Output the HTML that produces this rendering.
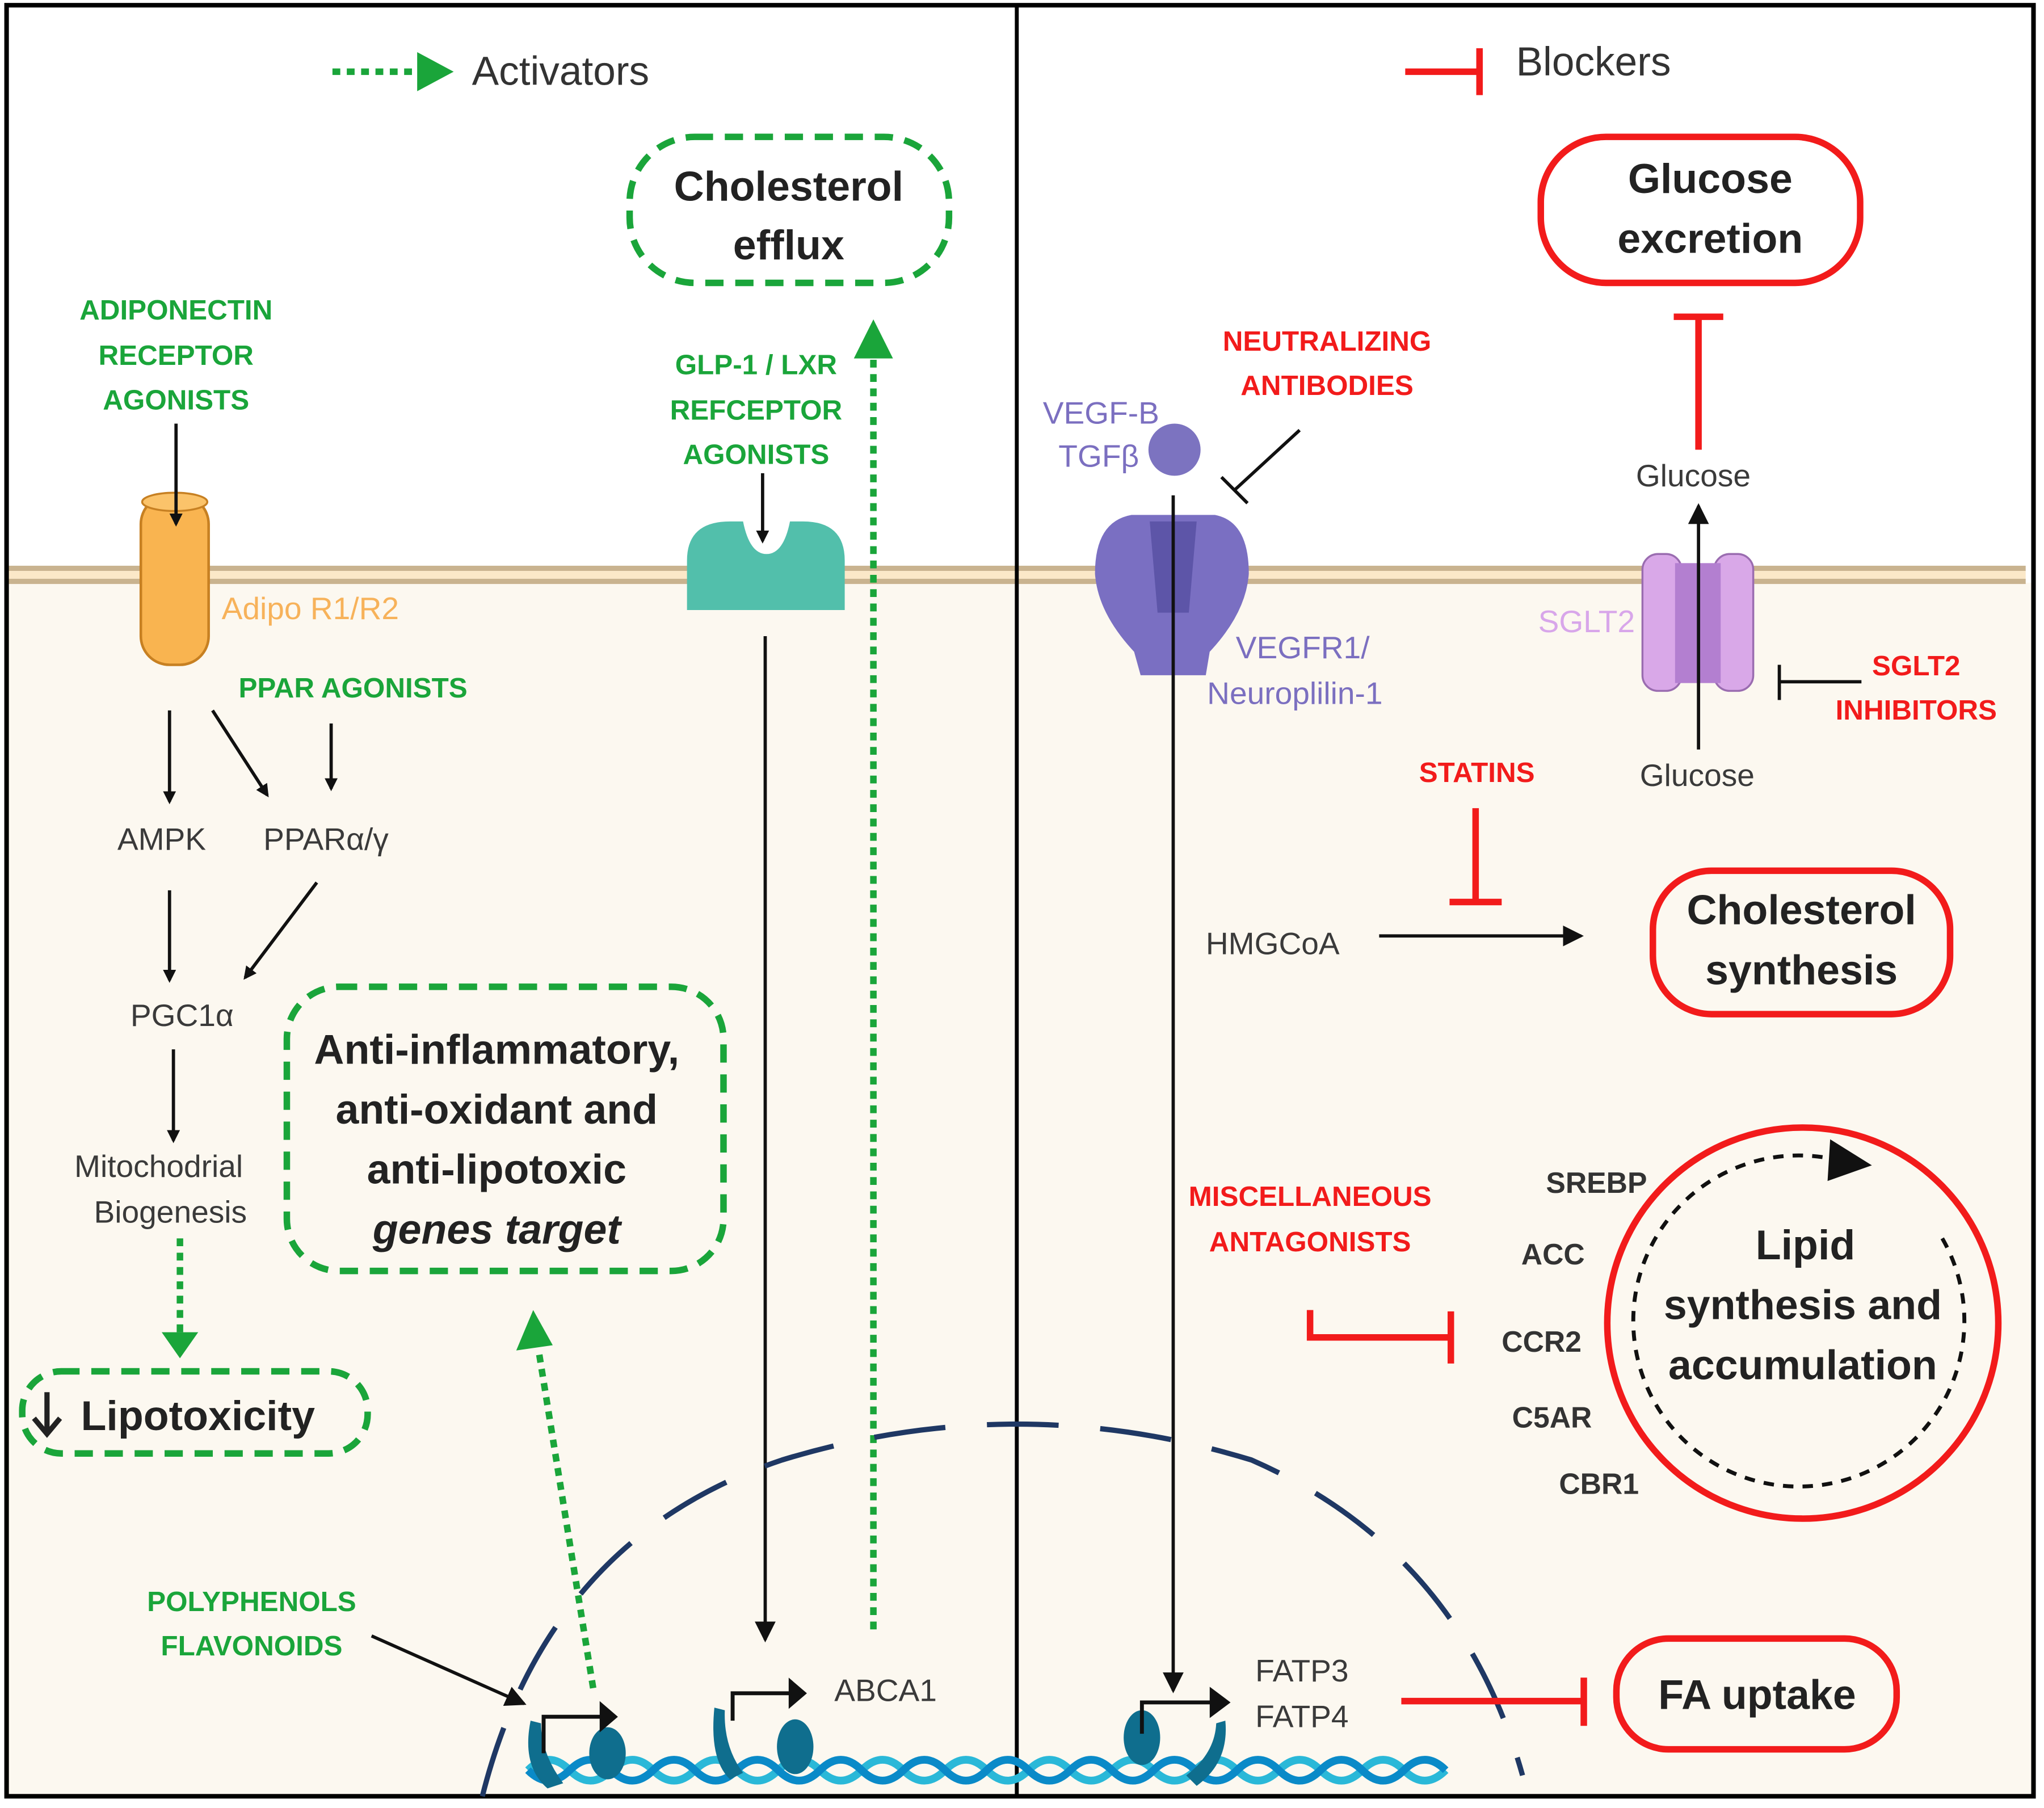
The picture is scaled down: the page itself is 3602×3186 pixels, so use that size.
<!DOCTYPE html>
<html><head><meta charset="utf-8"><style>
html,body{margin:0;padding:0;background:#fff}
svg{display:block}
text{font-family:"Liberation Sans",sans-serif}
.g{fill:#1aa53a;font-weight:bold;font-size:21.5px}
.r{fill:#f21b1b;font-weight:bold;font-size:21.5px}
.k{fill:#3a3a3a;font-size:24px}
.b{fill:#222;font-weight:bold;font-size:32px}
.blk{stroke:#111;stroke-width:2.5;fill:none}
.gd{stroke:#1aa53a;stroke-width:5;stroke-dasharray:14 9;fill:none}
.rd{stroke:#f21b1b;stroke-width:5;fill:none}
</style></head><body>
<svg width="3602" height="3186" viewBox="0 0 1568 1387" xmlns="http://www.w3.org/2000/svg">
<defs>
<marker id="ak" markerWidth="10" markerHeight="10" refX="8" refY="5" orient="auto" markerUnits="userSpaceOnUse" viewBox="0 0 10 10"><path d="M0,0 L10,5 L0,10 z" fill="#111"/></marker>
<marker id="ak2" markerWidth="16" markerHeight="16" refX="14" refY="8" orient="auto" markerUnits="userSpaceOnUse" viewBox="0 0 16 16"><path d="M0,0 L16,8 L0,16 z" fill="#111"/></marker>
</defs>
<rect x="0" y="0" width="1568" height="1387" fill="#fff"/>
<rect x="6" y="447" width="1554" height="931" fill="#fcf8f0"/>
<rect x="6" y="434" width="1548" height="4" fill="#c9b38f"/>
<rect x="6" y="438" width="1548" height="6" fill="#fbe8c8"/>
<rect x="6" y="444" width="1548" height="4" fill="#c9b38f"/>
<rect x="5" y="4" width="1555" height="1374" fill="none" stroke="#000" stroke-width="3.5"/>
<line x1="780" y1="4" x2="780" y2="1378" stroke="#000" stroke-width="3"/>

<line x1="255" y1="55" x2="322" y2="55" stroke="#1aa53a" stroke-width="5" stroke-dasharray="6 5"/>
<path d="M320,40 L348,55 L320,70 z" fill="#1aa53a"/>
<text x="362" y="65" font-size="31" fill="#333">Activators</text>
<line x1="1078" y1="55" x2="1135" y2="55" stroke="#f21b1b" stroke-width="5"/>
<line x1="1135" y1="37" x2="1135" y2="73" stroke="#f21b1b" stroke-width="5"/>
<text x="1163" y="58" font-size="31" fill="#333">Blockers</text>

<rect x="483" y="105" width="245" height="112" rx="50" class="gd"/>
<text x="605" y="154" class="b" text-anchor="middle">Cholesterol</text>
<text x="605" y="199" class="b" text-anchor="middle">efflux</text>
<rect x="1182" y="105" width="245" height="112" rx="50" class="rd"/>
<text x="1312" y="148" class="b" text-anchor="middle">Glucose</text>
<text x="1312" y="194" class="b" text-anchor="middle">excretion</text>

<text x="135" y="245" class="g" text-anchor="middle">ADIPONECTIN</text>
<text x="135" y="280" class="g" text-anchor="middle">RECEPTOR</text>
<text x="135" y="314" class="g" text-anchor="middle">AGONISTS</text>
<rect x="108" y="380" width="52" height="130" rx="22" fill="#f9b450" stroke="#c78022" stroke-width="2"/>
<ellipse cx="134" cy="385" rx="25" ry="7" fill="#fbc36a" stroke="#c78022" stroke-width="1.5"/>
<line x1="135" y1="325" x2="135" y2="402" class="blk" marker-end="url(#ak)"/>
<text x="170" y="475" font-size="24" fill="#f7b25a">Adipo  R1/R2</text>
<text x="183" y="535" class="g">PPAR AGONISTS</text>
<line x1="130" y1="545" x2="130" y2="615" class="blk" marker-end="url(#ak)"/>
<line x1="163" y1="545" x2="205" y2="610" class="blk" marker-end="url(#ak)"/>
<line x1="254" y1="555" x2="254" y2="605" class="blk" marker-end="url(#ak)"/>
<text x="90" y="652" class="k">AMPK</text>
<text x="202" y="652" class="k">PPARα/γ</text>
<line x1="130" y1="683" x2="130" y2="752" class="blk" marker-end="url(#ak)"/>
<line x1="243" y1="677" x2="188" y2="750" class="blk" marker-end="url(#ak)"/>
<text x="100" y="787" class="k">PGC1α</text>
<line x1="133" y1="805" x2="133" y2="875" class="blk" marker-end="url(#ak)"/>
<text x="57" y="903" class="k">Mitochodrial</text>
<text x="72" y="938" class="k">Biogenesis</text>
<line x1="138" y1="950" x2="138" y2="1024" stroke="#1aa53a" stroke-width="5" stroke-dasharray="6 5"/>
<path d="M124,1022 L152,1022 L138,1042 z" fill="#1aa53a"/>
<rect x="17" y="1052" width="265" height="63" rx="30" class="gd"/>
<line x1="36" y1="1068" x2="36" y2="1098" stroke="#222" stroke-width="4"/>
<path d="M26,1088 L36,1100 L46,1088" fill="none" stroke="#222" stroke-width="4"/>
<text x="62" y="1097" class="b">Lipotoxicity</text>
<rect x="220" y="757" width="335" height="218" rx="40" class="gd"/>
<text x="381" y="816" class="b" text-anchor="middle">Anti-inflammatory,</text>
<text x="381" y="862" class="b" text-anchor="middle">anti-oxidant and</text>
<text x="381" y="908" class="b" text-anchor="middle">anti-lipotoxic</text>
<text x="381" y="954" class="b" text-anchor="middle" font-style="italic">genes target</text>
<line x1="455" y1="1295" x2="413" y2="1035" stroke="#1aa53a" stroke-width="5" stroke-dasharray="6 5"/>
<path d="M396,1036 L424,1032 L409,1005 z" fill="#1aa53a"/>
<text x="193" y="1236" class="g" text-anchor="middle">POLYPHENOLS</text>
<text x="193" y="1270" class="g" text-anchor="middle">FLAVONOIDS</text>
<line x1="285" y1="1255" x2="402" y2="1307" class="blk" marker-end="url(#ak2)"/>

<text x="580" y="287" class="g" text-anchor="middle">GLP-1 / LXR</text>
<text x="580" y="322" class="g" text-anchor="middle">REFCEPTOR</text>
<text x="580" y="356" class="g" text-anchor="middle">AGONISTS</text>
<path d="M527,468 L527,430 Q527,400 560,400 L570,400 Q575,425 588,425 Q601,425 606,400 L616,400 Q648,400 648,430 L648,468 Z" fill="#52bfab"/>
<line x1="585" y1="363" x2="585" y2="415" class="blk" marker-end="url(#ak)"/>
<line x1="587" y1="488" x2="587" y2="1258" class="blk" marker-end="url(#ak2)"/>
<line x1="670" y1="1250" x2="670" y2="275" stroke="#1aa53a" stroke-width="5" stroke-dasharray="6 5"/>
<path d="M655,275 L685,275 L670,245 z" fill="#1aa53a"/>
<text x="640" y="1305" class="k">ABCA1</text>

<path d="M370,1378 Q420,1180 600,1120 Q780,1065 960,1120 Q1120,1190 1168,1362" fill="none" stroke="#1f3864" stroke-width="4" stroke-dasharray="55 32"/>
<path d="M405,1358 q16,-16 32,0 t32,0 t32,0 t32,0 t32,0 t32,0 t32,0 t32,0 t32,0 t32,0 t32,0 t32,0 t32,0 t32,0 t32,0 t32,0 t32,0 t32,0 t32,0 t32,0 t32,0 t32,0" fill="none" stroke="#2ab8d8" stroke-width="6"/>
<path d="M405,1358 q16,16 32,0 t32,0 t32,0 t32,0 t32,0 t32,0 t32,0 t32,0 t32,0 t32,0 t32,0 t32,0 t32,0 t32,0 t32,0 t32,0 t32,0 t32,0 t32,0 t32,0 t32,0 t32,0" fill="none" stroke="#0a8ac8" stroke-width="6"/>
<g fill="#0f6e8e">
<path d="M407,1320 Q400,1355 420,1372 L432,1368 Q415,1345 415,1322 z"/>
<ellipse cx="466" cy="1345" rx="14" ry="20"/>
<path d="M548,1310 Q544,1350 560,1365 L570,1360 Q555,1340 556,1312 z"/>
<ellipse cx="610" cy="1340" rx="14" ry="21"/>
<ellipse cx="876" cy="1333" rx="14" ry="21"/>
<path d="M940,1320 Q943,1352 918,1370 L910,1362 Q932,1345 933,1322 z"/>
</g>
<g fill="none" stroke="#111" stroke-width="3">
<path d="M417,1345 L417,1317 L462,1317"/><path d="M562,1320 L562,1299 L607,1299"/><path d="M876,1330 L876,1306 L930,1306"/>
</g>
<g fill="#111">
<path d="M460,1305 L474,1317 L460,1329 z"/><path d="M605,1287 L619,1299 L605,1311 z"/><path d="M928,1294 L944,1306 L928,1318 z"/>
</g>

<text x="1018" y="269" class="r" text-anchor="middle">NEUTRALIZING</text>
<text x="1018" y="303" class="r" text-anchor="middle">ANTIBODIES</text>
<line x1="997" y1="330" x2="947" y2="376" stroke="#111" stroke-width="2.5"/>
<line x1="937" y1="366" x2="957" y2="386" stroke="#111" stroke-width="2.5"/>
<text x="800" y="325" font-size="24" fill="#7b6fc0">VEGF-B</text>
<text x="812" y="358" font-size="24" fill="#7b6fc0">TGFβ</text>
<circle cx="901" cy="345" r="20" fill="#7c73c0"/>
<g fill="#7a6fc2">
<path d="M868,395 Q840,400 840,440 Q842,470 870,500 L875,518 L900,518 L900,395 z"/>
<path d="M932,395 Q958,400 958,440 Q956,470 928,500 L925,518 L900,518 L900,395 z"/>
</g>
<path d="M882,400 L918,400 L912,470 L888,470 z" fill="#5d55a8"/>
<line x1="900" y1="380" x2="900" y2="1297" class="blk" marker-end="url(#ak2)"/>
<text x="948" y="505" font-size="24" fill="#7b6fc0">VEGFR1/</text>
<text x="926" y="540" font-size="24" fill="#7b6fc0">Neuroplilin-1</text>
<text x="963" y="1290" class="k">FATP3</text>
<text x="963" y="1325" class="k">FATP4</text>
<line x1="1075" y1="1305" x2="1215" y2="1305" stroke="#f21b1b" stroke-width="5"/>
<line x1="1215" y1="1287" x2="1215" y2="1324" stroke="#f21b1b" stroke-width="5"/>
<rect x="1240" y="1257" width="215" height="85" rx="40" class="rd"/>
<text x="1348" y="1311" class="b" text-anchor="middle">FA uptake</text>

<line x1="1303" y1="345" x2="1303" y2="243" stroke="#f21b1b" stroke-width="5"/>
<line x1="1284" y1="243" x2="1322" y2="243" stroke="#f21b1b" stroke-width="5"/>
<text x="1255" y="373" class="k">Glucose</text>
<text x="1258" y="603" class="k">Glucose</text>
<rect x="1260" y="425" width="30" height="105" rx="12" fill="#d9a8e8" stroke="#9a6cb0" stroke-width="1.5"/>
<rect x="1315" y="425" width="30" height="105" rx="12" fill="#d9a8e8" stroke="#9a6cb0" stroke-width="1.5"/>
<rect x="1285" y="432" width="35" height="92" fill="#b37fd0"/>
<line x1="1303" y1="575" x2="1303" y2="388" class="blk" marker-end="url(#ak2)"/>
<text x="1180" y="485" font-size="24" fill="#d8a6ea">SGLT2</text>
<line x1="1428" y1="523" x2="1365" y2="523" stroke="#111" stroke-width="2.5"/>
<line x1="1365" y1="510" x2="1365" y2="537" stroke="#111" stroke-width="2.5"/>
<text x="1470" y="518" class="r" text-anchor="middle">SGLT2</text>
<text x="1470" y="552" class="r" text-anchor="middle">INHIBITORS</text>

<text x="1133" y="600" class="r" text-anchor="middle">STATINS</text>
<line x1="1132" y1="620" x2="1132" y2="692" stroke="#f21b1b" stroke-width="5"/>
<line x1="1112" y1="692" x2="1152" y2="692" stroke="#f21b1b" stroke-width="5"/>
<text x="925" y="732" class="k">HMGCoA</text>
<line x1="1058" y1="718" x2="1213" y2="718" class="blk" marker-end="url(#ak2)"/>
<rect x="1268" y="668" width="228" height="110" rx="45" class="rd"/>
<text x="1382" y="709" class="b" text-anchor="middle">Cholesterol</text>
<text x="1382" y="755" class="b" text-anchor="middle">synthesis</text>

<text x="1005" y="925" class="r" text-anchor="middle">MISCELLANEOUS</text>
<text x="1005" y="960" class="r" text-anchor="middle">ANTAGONISTS</text>
<path d="M1005,1005 L1005,1026 L1113,1026" fill="none" stroke="#f21b1b" stroke-width="5"/>
<line x1="1113" y1="1006" x2="1113" y2="1046" stroke="#f21b1b" stroke-width="5"/>
<g font-weight="bold" font-size="22.5" fill="#333">
<text x="1186" y="915">SREBP</text>
<text x="1167" y="970">ACC</text>
<text x="1152" y="1037">CCR2</text>
<text x="1160" y="1095">C5AR</text>
<text x="1196" y="1146">CBR1</text>
</g>
<circle cx="1383" cy="1015" r="150" fill="none" stroke="#f21b1b" stroke-width="5"/>
<path d="M1490,950 A127,127 0 1 1 1410,890" fill="none" stroke="#111" stroke-width="3" stroke-dasharray="8 7"/>
<path d="M1404,874 L1436,894 L1402,906 z" fill="#111"/>
<text x="1385" y="966" class="b" text-anchor="middle">Lipid</text>
<text x="1383" y="1012" class="b" text-anchor="middle">synthesis and</text>
<text x="1383" y="1058" class="b" text-anchor="middle">accumulation</text>
</svg>
</body></html>
